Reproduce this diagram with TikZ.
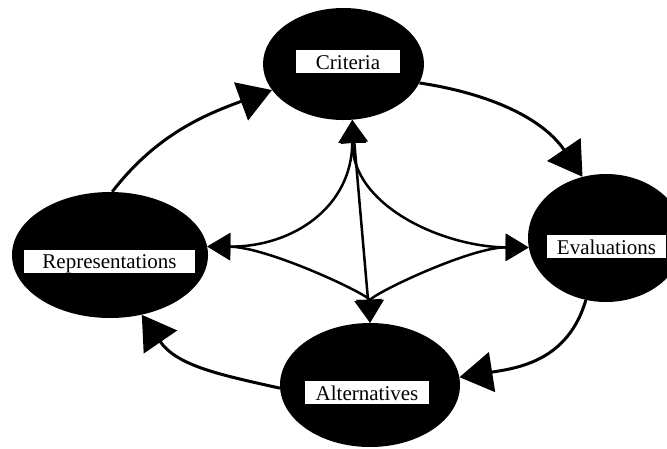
\documentclass[tikz,border=0pt]{standalone}
\usepackage{fontspec}
\setmainfont{Liberation Serif}
\usetikzlibrary{arrows.meta,shapes.geometric}

\begin{document}
\begin{tikzpicture}[
  x=1pt,y=-1pt,
  blob/.style={ellipse,fill=black,inner sep=0pt},
  tag/.style={fill=white,inner xsep=0pt,inner ysep=0pt,text height=19pt,
    text depth=4pt,font=\fontsize{21}{21}\selectfont},
  ringarr/.style={-{Triangle[length=33pt,width=40pt]},line width=3pt},
  linkarr/.style={{Triangle[length=23pt,width=27pt]}-{Triangle[length=23pt,width=27pt]},line width=2.5pt}
]
\useasboundingbox (0,0) rectangle (667,448);
\node[blob,minimum width=161pt,minimum height=112pt] (crit) at (343.5,64) {};
\node[blob,minimum width=196pt,minimum height=126pt] (rep) at (110,255) {};
\node[blob,minimum width=156pt,minimum height=128pt] (eval) at (606,238) {};
\node[blob,minimum width=180pt,minimum height=124pt] (alt) at (370,385) {};
\draw[ringarr] (rep.88) .. controls (156,135) and (204,115) .. (crit.200);
\draw[ringarr] (crit.346) .. controls (492,94) and (543,119) .. (eval.111);
\draw[ringarr] (eval.252) .. controls (568,361) and (518,368) .. (alt.5);
\draw[ringarr] (alt.182) .. controls (221,375) and (177,366) .. (rep.298);
\draw[linkarr] (crit.279) .. controls (352,207) and (293,247) .. (rep.5);
\draw[linkarr] (crit.279) .. controls (352,207) and (445,247) .. (eval.187);
\draw[linkarr] (rep.5) .. controls (268,247) and (370,295) .. (alt.90);
\draw[linkarr] (eval.187) .. controls (470,247) and (370,295) .. (alt.90);
\draw[linkarr] (crit.279) -- (alt.90);
\node[tag,minimum width=104pt] (critlabel) at (348,61.5) {Criteria};
\node[tag,minimum width=171pt] (replabel) at (109.5,261) {Representations};
\node[tag,minimum width=119pt] (evallabel) at (606.5,246.5) {Evaluations};
\node[tag,minimum width=124pt] (altlabel) at (367,392.5) {Alternatives};
\end{tikzpicture}
\end{document}
